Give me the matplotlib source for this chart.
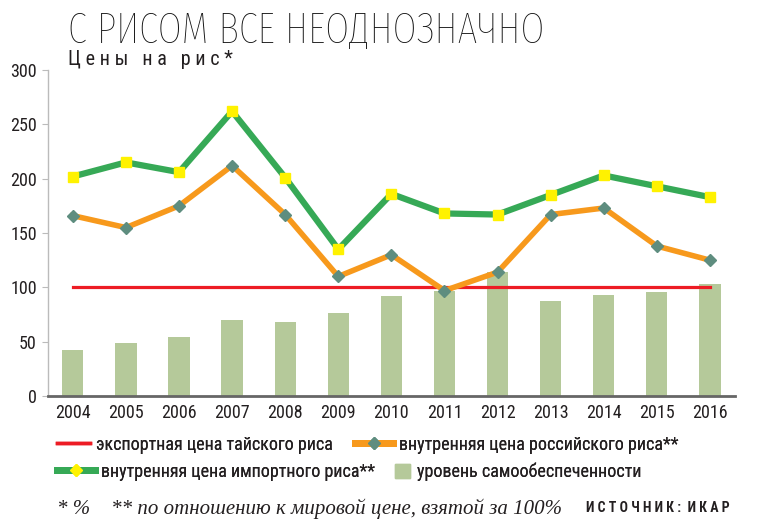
import numpy as np
import matplotlib.pyplot as plt
from matplotlib.lines import Line2D
from matplotlib.patches import Patch

# --- data ---
years = ['2004', '2005', '2006', '2007', '2008', '2009', '2010',
         '2011', '2012', '2013', '2014', '2015', '2016']
thai_export = [100] * 13
russian_domestic = [166, 155, 175, 212, 167, 110, 130, 97, 114, 167, 173, 138, 125]
import_domestic = [202, 215, 206, 262, 201, 135, 186, 168, 167, 185, 203, 193, 183]
self_sufficiency = [42, 49, 54, 70, 68, 76, 92, 97, 114, 87, 93, 96, 103]

legend_labels = ['экспортная цена тайского риса',
                 'внутренняя цена российского риса**',
                 'внутренняя цена импортного риса**',
                 'уровень самообеспеченности']

RED = '#ed1c24'
ORANGE = '#f7991c'
GREEN = '#36a956'
YELLOW = '#fff200'
DIAMOND = '#5e8d7f'
BAR = '#b5c99a'
INK = '#231f20'

plt.rcParams['font.family'] = ['Roboto Condensed', 'DejaVu Sans']
TITLE_FONT = ['Fira Sans Extra Condensed', 'Roboto Condensed', 'DejaVu Sans']

fig = plt.figure(figsize=(7.6, 5.32), dpi=100)
ax = fig.add_axes([0.063, 0.2556, 0.904, 0.6128])

x = np.arange(len(years))

ax.bar(x, self_sufficiency, width=0.4, color=BAR, zorder=1)
ax.plot(x, thai_export, color=RED, lw=2.3, zorder=2)
ax.plot(x, russian_domestic, color=ORANGE, lw=4, marker='D', ms=6,
        mfc=DIAMOND, mec=DIAMOND, zorder=3)
ax.plot(x, import_domestic, color=GREEN, lw=4.5, marker='s', ms=6.5,
        mfc=YELLOW, mec=YELLOW, zorder=4)

ax.set_xlim(-0.47, 12.47)
ax.set_ylim(0, 300)
ax.set_yticks(range(0, 301, 50))
ax.set_xticks(x)
ax.set_xticklabels(years)

for s in ['top', 'right']:
    ax.spines[s].set_visible(False)
ax.spines['left'].set_color('#bbbbbb')
ax.spines['left'].set_linewidth(1)
ax.spines['bottom'].set_color('#666666')
ax.spines['bottom'].set_linewidth(2)
ax.tick_params(axis='y', length=4, color='#bbbbbb', labelsize=13,
               labelcolor=INK, pad=4)
ax.tick_params(axis='x', length=0, labelsize=13, labelcolor=INK, pad=6)

# titles
fig.text(0.089, 1 - 43 / 532, 'С РИСОМ ВСЕ НЕОДНОЗНАЧНО', fontsize=30.5,
         family=TITLE_FONT, fontweight='light', color='#111111',
         va='baseline', ha='left')
fig.text(0.089, 1 - 65 / 532, 'Ц е н ы   н а   р и с *', fontsize=14.5,
         color=INK, va='baseline', ha='left')

# legend: each entry placed by itself, as in the original layout
h_red = Line2D([], [], color=RED, lw=2.5)
h_orange = Line2D([], [], color=ORANGE, lw=5, marker='D', ms=6,
                  mfc=DIAMOND, mec=DIAMOND)
h_green = Line2D([], [], color=GREEN, lw=5, marker='D', ms=6,
                 mfc=YELLOW, mec=YELLOW)
h_bar = Patch(color=BAR)

entries = [(h_red, legend_labels[0], 57, 445, 1.8),
           (h_orange, legend_labels[1], 355, 445, 2.1),
           (h_green, legend_labels[2], 57, 472, 2.1),
           (h_bar, legend_labels[3], 395, 472, 0.85)]
for h, lab, px, py, hl in entries:
    leg = fig.legend([h], [lab], loc='center left',
                     bbox_to_anchor=(px / 760, 1 - py / 532),
                     frameon=False, fontsize=13, handlelength=hl,
                     handleheight=0.85, handletextpad=0.35,
                     borderpad=0, borderaxespad=0, labelcolor=INK)
    fig.add_artist(leg)

# footnotes
fig.text(57 / 760, 1 - 514 / 532, '* %    ** по отношению к мировой цене, взятой за 100%',
         fontsize=15, style='italic', family=['Liberation Serif', 'DejaVu Serif'],
         color=INK, va='baseline', ha='left')
fig.text(730 / 760, 1 - 512 / 532, 'И С Т О Ч Н И К :  И К А Р', fontsize=10,
         fontweight='bold', color=INK, va='baseline', ha='right')

fig.savefig('out.png', dpi=100)
